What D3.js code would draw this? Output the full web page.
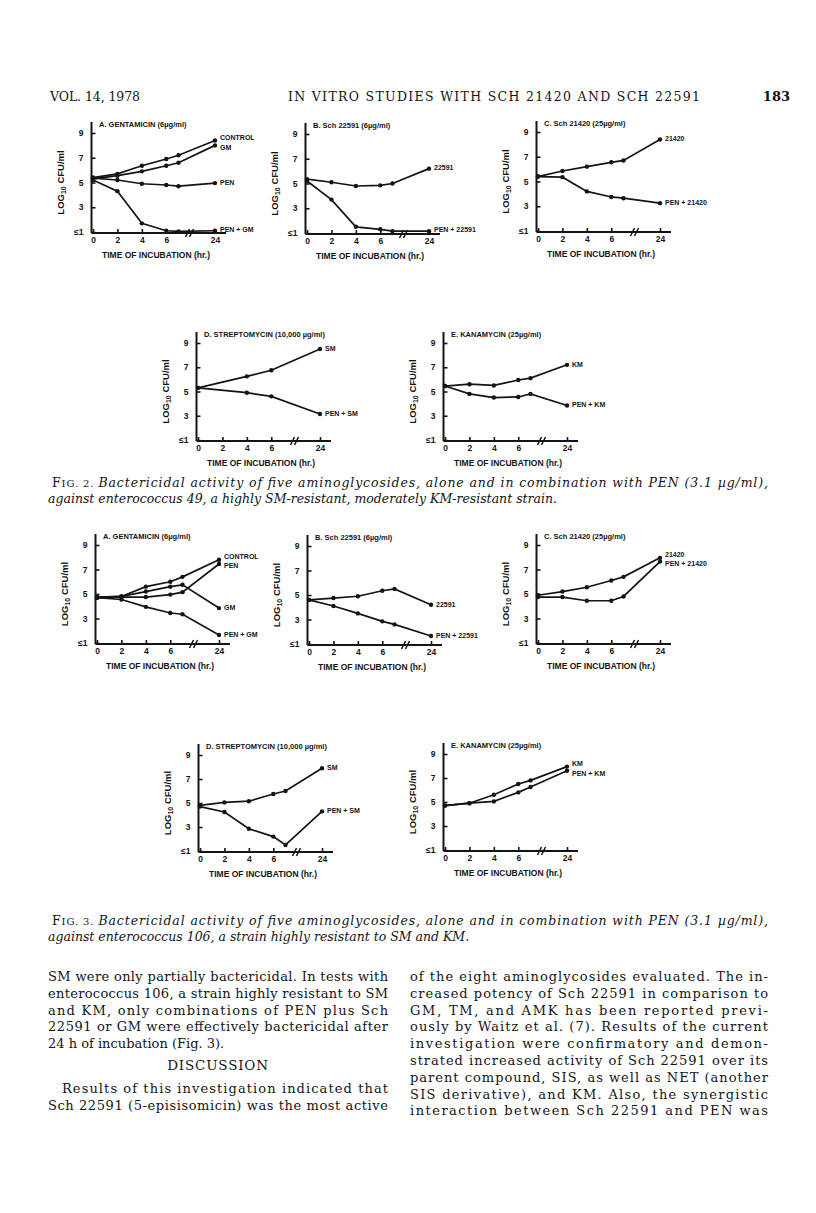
<!DOCTYPE html>
<html><head><meta charset="utf-8">
<script src="https://cdn.jsdelivr.net/npm/d3@7"></script>
<style>body{margin:0;background:#fff}svg{display:block}</style>
</head><body>
<svg id="page" width="816" height="1213"></svg>
<script>
// ---------- data ----------
const hours = [0, 2, 4, 6, 7, 24];
const hoursD = [0, 4, 6, 24];
const xTickValues = [0, 2, 4, 6, 24];
const yTickValues = [1, 3, 5, 7, 9];
const yTickLabels = ["≤1", "3", "5", "7", "9"];

// Fig. 2 (enterococcus 49)
const f2A_control = [5.4, 5.7, 6.35, 6.9, 7.2, 8.4];
const f2A_gm = [5.3, 5.55, 5.9, 6.35, 6.6, 8.0];
const f2A_pen = [5.35, 5.2, 4.9, 4.8, 4.7, 4.95];
const f2A_pengm = [5.2, 4.3, 1.7, 1.1, 1.05, 1.1];
const f2B_22591 = [5.35, 5.1, 4.8, 4.85, 5.0, 6.2];
const f2B_pen22591 = [5.2, 3.7, 1.5, 1.3, 1.15, 1.15];
const f2C_21420 = [5.4, 5.85, 6.2, 6.55, 6.7, 8.4];
const f2C_pen21420 = [5.4, 5.35, 4.2, 3.75, 3.65, 3.25];
const f2D_sm = [5.3, 6.25, 6.75, 8.5];
const f2D_pensm = [5.3, 4.9, 4.6, 3.15];
const f2E_km = [5.45, 5.6, 5.5, 5.95, 6.1, 7.2];
const f2E_penkm = [5.45, 4.8, 4.5, 4.55, 4.8, 3.85];

// Fig. 3 (enterococcus 106)
const f3A_control = [4.75, 4.8, 5.6, 6.0, 6.4, 7.8];
const f3A_pen = [4.7, 4.75, 4.75, 4.95, 5.15, 7.45];
const f3A_gm = [4.7, 4.8, 5.2, 5.6, 5.75, 3.85];
const f3A_pengm = [4.7, 4.55, 3.95, 3.45, 3.35, 1.65];
const f3B_22591 = [4.6, 4.75, 4.9, 5.35, 5.5, 4.2];
const f3B_pen22591 = [4.6, 4.1, 3.5, 2.85, 2.6, 1.65];
const f3C_21420 = [4.9, 5.2, 5.55, 6.1, 6.4, 7.95];
const f3C_pen21420 = [4.75, 4.75, 4.45, 4.45, 4.8, 7.65];
const f3D_sm = [4.8, 5.05, 5.15, 5.75, 6.0, 7.9];
const f3D_pensm = [4.7, 4.25, 2.85, 2.2, 1.5, 4.3];
const f3E_km = [4.7, 4.9, 5.6, 6.5, 6.8, 7.95];
const f3E_penkm = [4.7, 4.9, 5.05, 5.8, 6.25, 7.6];

const titles = {
  A: "A.  GENTAMICIN  (6µg/ml)",
  B: "B.  Sch 22591  (6µg/ml)",
  C: "C.  Sch 21420  (25µg/ml)",
  D: "D.  STREPTOMYCIN  (10,000 µg/ml)",
  E: "E.  KANAMYCIN  (25µg/ml)"
};

// ---------- layout ----------
const INK = "#141414";
const SANS = "'Liberation Sans', Arial, sans-serif";
const SERIF = "'DejaVu Serif', serif";
const svg = d3.select("#page");

const panels = [
  {x0: 93, y1: 232, h: 99, title: titles.A, series: [
    {d: f2A_control, t: hours, label: "CONTROL", dy: -2.5},
    {d: f2A_gm, t: hours, label: "GM", dy: 2.5},
    {d: f2A_pen, t: hours, label: "PEN", dy: 0},
    {d: f2A_pengm, t: hours, label: "PEN + GM", dy: -1}]},
  {x0: 307, y1: 233, h: 99, title: titles.B, series: [
    {d: f2B_22591, t: hours, label: "22591", dy: 0},
    {d: f2B_pen22591, t: hours, label: "PEN + 22591", dy: -1}]},
  {x0: 538, y1: 231, h: 99, title: titles.C, series: [
    {d: f2C_21420, t: hours, label: "21420", dy: 0},
    {d: f2C_pen21420, t: hours, label: "PEN + 21420", dy: 0}]},
  {x0: 198, y1: 440, h: 97, title: titles.D, series: [
    {d: f2D_sm, t: hoursD, label: "SM", dy: 0},
    {d: f2D_pensm, t: hoursD, label: "PEN + SM", dy: 0}]},
  {x0: 445, y1: 440, h: 97, title: titles.E, series: [
    {d: f2E_km, t: hours, label: "KM", dy: 0},
    {d: f2E_penkm, t: hours, label: "PEN + KM", dy: 0}]},
  {x0: 97, y1: 643, h: 98, title: titles.A, series: [
    {d: f3A_control, t: hours, label: "CONTROL", dy: -3},
    {d: f3A_pen, t: hours, label: "PEN", dy: 2.5},
    {d: f3A_gm, t: hours, label: "GM", dy: 0},
    {d: f3A_pengm, t: hours, label: "PEN + GM", dy: 0}]},
  {x0: 309, y1: 644, h: 98, title: titles.B, series: [
    {d: f3B_22591, t: hours, label: "22591", dy: 0},
    {d: f3B_pen22591, t: hours, label: "PEN + 22591", dy: 0}]},
  {x0: 538, y1: 643, h: 98, title: titles.C, series: [
    {d: f3C_21420, t: hours, label: "21420", dy: -3},
    {d: f3C_pen21420, t: hours, label: "PEN + 21420", dy: 2.5}]},
  {x0: 200, y1: 851, h: 96, title: titles.D, series: [
    {d: f3D_sm, t: hours, label: "SM", dy: 0},
    {d: f3D_pensm, t: hours, label: "PEN + SM", dy: 0}]},
  {x0: 445, y1: 850, h: 96, title: titles.E, series: [
    {d: f3E_km, t: hours, label: "KM", dy: -2},
    {d: f3E_penkm, t: hours, label: "PEN + KM", dy: 3}]}
];

function drawPanel(p) {
  const g = svg.append("g");
  const x = d3.scaleLinear().domain([0, 7, 24]).range([p.x0, p.x0 + 85.5, p.x0 + 122]);
  const y = d3.scaleLinear().domain([1, 9]).range([p.y1, p.y1 - p.h]);
  const ax = p.x0 - 1.5, ay = p.y1 + 1;

  const ya = g.append("g").attr("transform", `translate(${ax},0)`)
    .call(d3.axisLeft(y).tickValues(yTickValues).tickFormat((d, i) => yTickLabels[i])
      .tickSizeInner(-4).tickSizeOuter(0).tickPadding(8));
  const xa = g.append("g").attr("transform", `translate(0,${ay})`)
    .call(d3.axisBottom(x).tickValues(xTickValues).tickSizeInner(-4).tickSizeOuter(0).tickPadding(4));
  [ya, xa].forEach(a => {
    a.select(".domain").remove();
    a.selectAll(".tick line").attr("stroke", INK).attr("stroke-width", 1.6);
    a.selectAll(".tick text").attr("fill", INK).attr("font-family", SANS)
      .attr("font-weight", "bold").attr("font-size", 8.5);
  });
  // axis lines
  g.append("line").attr("x1", ax).attr("x2", ax).attr("y1", y(9) - 11).attr("y2", ay)
    .attr("stroke", INK).attr("stroke-width", 2);
  g.append("line").attr("x1", ax).attr("x2", x(24) + 11).attr("y1", ay).attr("y2", ay)
    .attr("stroke", INK).attr("stroke-width", 2);
  // axis break
  const bx = p.x0 + 95;
  [0, 4].forEach(o => g.append("line").attr("x1", bx + o - 2.5).attr("y1", ay + 4)
    .attr("x2", bx + o + 1.5).attr("y2", ay - 4).attr("stroke", INK).attr("stroke-width", 1.6));

  // title
  g.append("text").attr("x", p.x0 + 6).attr("y", y(9) - 6).text(p.title)
    .attr("font-family", SANS).attr("font-weight", "bold").attr("font-size", 7.5).attr("fill", INK);
  // y title
  const yt = g.append("text").attr("transform", `translate(${ax - 28},${y(5)}) rotate(-90)`)
    .attr("text-anchor", "middle").attr("font-family", SANS).attr("font-weight", "bold")
    .attr("font-size", 9.5).attr("fill", INK);
  yt.append("tspan").text("LOG");
  yt.append("tspan").text("10").attr("font-size", 7).attr("dy", 2.5);
  yt.append("tspan").text(" CFU/ml").attr("dy", -2.5);
  // x title
  g.append("text").attr("x", p.x0 + 63).attr("y", ay + 25).attr("text-anchor", "middle")
    .text("TIME OF INCUBATION (hr.)").attr("textLength", 108).attr("lengthAdjust", "spacingAndGlyphs")
    .attr("font-family", SANS).attr("font-weight", "bold").attr("font-size", 8.5).attr("fill", INK);

  // series
  p.series.forEach(s => {
    const pts = s.d.map((v, i) => [s.t[i], v]);
    g.append("path").datum(pts)
      .attr("d", d3.line().x(d => x(d[0])).y(d => y(d[1])))
      .attr("fill", "none").attr("stroke", INK).attr("stroke-width", 1.7);
    g.selectAll(null).data(pts).enter().append("circle")
      .attr("cx", d => x(d[0])).attr("cy", d => y(d[1])).attr("r", 2.2).attr("fill", INK);
    const last = pts[pts.length - 1];
    g.append("text").attr("x", x(last[0]) + 5).attr("y", y(last[1]) + s.dy)
      .attr("dominant-baseline", "middle").text(s.label)
      .attr("font-family", SANS).attr("font-weight", "bold").attr("font-size", 7).attr("fill", INK);
  });
}
panels.forEach(drawPanel);

// ---------- page text ----------
function txt(x, y, str, opts = {}) {
  const t = svg.append("text").attr("x", x).attr("y", y)
    .attr("font-family", opts.family || SERIF).attr("font-size", opts.size || 13)
    .attr("fill", INK).attr("font-style", opts.italic ? "italic" : "normal")
    .attr("font-weight", opts.weight || "normal").text(str);
  if (opts.anchor) t.attr("text-anchor", opts.anchor);
  if (opts.len) t.attr("textLength", opts.len).attr("lengthAdjust", "spacing");
  if (opts.ls) t.attr("letter-spacing", opts.ls);
  return t;
}
// running header
txt(50, 101, "VOL. 14, 1978", {size: 12.5, len: 90});
txt(288, 101, "IN VITRO STUDIES WITH SCH 21420 AND SCH 22591", {size: 12.5, len: 412});
txt(790, 101, "183", {size: 13, anchor: "end", weight: "bold"});

function caption(y, num, rest1, line2) {
  const t = svg.append("text").attr("x", 52).attr("y", y).attr("font-family", SERIF)
    .attr("font-size", 12.5).attr("fill", INK).attr("textLength", 716).attr("lengthAdjust", "spacing");
  t.append("tspan").text("F");
  t.append("tspan").text("IG. " + num + ". ").attr("font-size", 10);
  t.append("tspan").text(rest1).attr("font-style", "italic");
  txt(48, y + 15.5, line2, {italic: true, size: 12.5});
}
caption(487, "2", "Bactericidal activity of five aminoglycosides, alone and in combination with PEN (3.1 µg/ml),",
  "against enterococcus 49, a highly SM-resistant, moderately KM-resistant strain.");
caption(925, "3", "Bactericidal activity of five aminoglycosides, alone and in combination with PEN (3.1 µg/ml),",
  "against enterococcus 106, a strain highly resistant to SM and KM.");

const leftCol = [
  ["SM were only partially bactericidal. In tests with", 48, true],
  ["enterococcus 106, a strain highly resistant to SM", 48, true],
  ["and KM, only combinations of PEN plus Sch", 48, true],
  ["22591 or GM were effectively bactericidal after", 48, true],
  ["24 h of incubation (Fig. 3).", 48, false]
];
leftCol.forEach((l, i) => txt(l[1], 981 + i * 16.8, l[0], {len: l[2] ? 388 - l[1] : null}));
txt(218, 1070, "DISCUSSION", {anchor: "middle", size: 13.5, ls: 0.8});
txt(62, 1093, "Results of this investigation indicated that", {len: 326});
txt(48, 1110, "Sch 22591 (5-episisomicin) was the most active", {len: 340});

const rightCol = [
  "of the eight aminoglycosides evaluated. The in-",
  "creased potency of Sch 22591 in comparison to",
  "GM, TM, and AMK has been reported previ-",
  "ously by Waitz et al. (7). Results of the current",
  "investigation were confirmatory and demon-",
  "strated increased activity of Sch 22591 over its",
  "parent compound, SIS, as well as NET (another",
  "SIS derivative), and KM. Also, the synergistic",
  "interaction between Sch 22591 and PEN was"
];
rightCol.forEach((l, i) => txt(410, 981 + i * 16.8, l, {len: 358}));
</script>
</body></html>
